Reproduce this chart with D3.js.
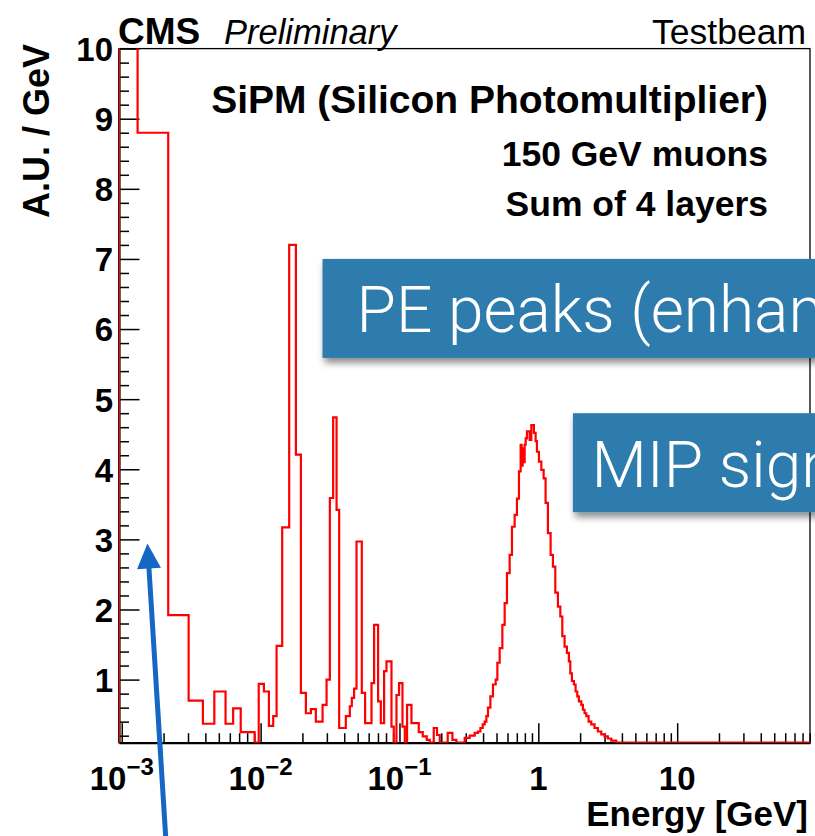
<!DOCTYPE html>
<html>
<head>
<meta charset="utf-8">
<script src="https://cdn.jsdelivr.net/npm/d3@7"></script>
<style>
  html, body { margin: 0; padding: 0; background: #ffffff; }
  svg { display: block; }
</style>
</head>
<body>
<svg id="chart" width="815" height="836"></svg>
<script>
// ---------------- data ----------------
// histogram bin edges, in GeV (variable binning)
const binEdges = [
  0.00045, 0.00130, 0.00216, 0.00303, 0.00384, 0.00464, 0.00559, 0.00634, 0.00719, 0.00905,
  0.00969, 0.01056, 0.01147, 0.01232, 0.01303, 0.01430, 0.01606, 0.01795, 0.01950, 0.02118,
  0.02301, 0.02499, 0.02793, 0.02985, 0.03152, 0.03329, 0.03523, 0.03678, 0.04108, 0.04389,
  0.04537, 0.04713, 0.04904, 0.05355, 0.05655, 0.0629, 0.06567, 0.07015, 0.07337, 0.0775,
  0.08063, 0.08758, 0.0910, 0.09515, 0.0993, 0.1051, 0.1092, 0.1134, 0.1220, 0.1377,
  0.1471, 0.1572, 0.1652, 0.1765, 0.1864, 0.1950, 0.2226, 0.2406, 0.2570, 0.2950,
  0.3205, 0.3481, 0.3678, 0.3826, 0.3975, 0.4108, 0.4225, 0.4339, 0.4515, 0.4713,
  0.4929, 0.507, 0.5267, 0.5508, 0.5722, 0.5944, 0.6216, 0.6457, 0.6753, 0.7015,
  0.7252, 0.7459, 0.7584, 0.7711, 0.7839, 0.797, 0.8103, 0.8279, 0.866, 0.8906,
  0.9297, 0.9563, 0.977, 1.010, 1.051, 1.092, 1.128, 1.172, 1.226, 1.274,
  1.325, 1.384, 1.440, 1.488, 1.546, 1.606, 1.660, 1.699, 1.745, 1.804,
  1.855, 1.908, 1.959, 2.039, 2.094, 2.153, 2.215, 2.301, 2.406, 2.541,
  2.685, 2.840, 2.999, 3.168, 3.351, 3.640, 100
];
// bin contents, A.U. / GeV
const binValues = [
  14, 8.80, 1.92, 0.70, 0.37, 0.83, 0.37, 0.59, 0.25, 0,
  0.94, 0.83, 0.34, 0.48, 1.48, 3.17, 7.20, 4.21, 0.81, 0.52,
  0.58, 0.40, 0.64, 1.00, 3.59, 4.74, 3.42, 0.31, 0.48, 0.62,
  0.74, 0.87, 2.97, 0.81, 0.38, 0.95, 1.78, 0.69, 0.38, 1.12,
  1.26, 0.33, 0, 0.78, 0.95, 0.33, 0, 0.64, 0.38, 0.25,
  0.19, 0.14, 0, 0.31, 0.21, 0, 0.24, 0.14, 0, 0.17,
  0.20, 0.24, 0.26, 0.31, 0.36, 0.40, 0.48, 0.60, 0.76, 0.93,
  1.00, 1.24, 1.45, 1.78, 2.09, 2.52, 2.78, 3.18, 3.35, 3.58,
  3.97, 4.35, 4.05, 4.30, 4.10, 4.35, 4.44, 4.54, 4.42, 4.63,
  4.52, 4.40, 4.25, 4.11, 3.99, 3.87, 3.52, 3.09, 2.78, 2.61,
  2.24, 2.04, 1.90, 1.62, 1.47, 1.38, 1.26, 1.09, 0.98, 0.93,
  0.83, 0.76, 0.69, 0.64, 0.57, 0.52, 0.48, 0.40, 0.36, 0.31,
  0.26, 0.22, 0.19, 0.16, 0.13, 0
];
const xDomain = [9.55e-4, 90.5];
const yDomain = [0.1, 10];
const xMajorTicks = [0.001, 0.01, 0.1, 1, 10];
const xTickBase = ["10", "10", "10", "1", "10"];
const xTickExp  = ["\u22123", "\u22122", "\u22121", "", ""];
const yMajorTicks = [1, 2, 3, 4, 5, 6, 7, 8, 9, 10];

const headerLeft = "CMS";
const headerLeftItalic = "Preliminary";
const headerRight = "Testbeam";
const legendLines = ["SiPM (Silicon Photomultiplier)", "150 GeV muons", "Sum of 4 layers"];
const xTitle = "Energy [GeV]";
const yTitle = "A.U. / GeV";

// overlay annotations (anchored in data units)
const notes = [
  { text: "PE peaks (enhanced)", e: 0.0279, vTop: 7.00 },
  { text: "MIP signal",          e: 1.774,  vTop: 4.80 }
];
const arrowTip  = { e: 0.00153, v: 2.94 };
const arrowTail = { e: 0.00208, v: -1.30 };

// ---------------- layout ----------------
const W = 815, H = 836;
const L = 119, R = 810, T = 48.6, B = 742.7;
const FONT = "'Liberation Sans', Arial, Helvetica, sans-serif";

const svg = d3.select("#chart");

const x = d3.scaleLog().domain(xDomain).range([L, R]).clamp(true);
const xFree = d3.scaleLog().domain(xDomain).range([L, R]);
const y = d3.scaleLinear().domain(yDomain).range([B, T]);

// defs
const defs = svg.append("defs");
defs.append("clipPath").attr("id", "frameClip")
  .append("rect").attr("x", L).attr("y", T).attr("width", R - L).attr("height", B - T);
const sh = defs.append("filter").attr("id", "shadow")
  .attr("x", "-10%").attr("y", "-20%").attr("width", "130%").attr("height", "160%");
sh.append("feDropShadow").attr("dx", 2).attr("dy", 5).attr("stdDeviation", 3.5)
  .attr("flood-color", "#000").attr("flood-opacity", 0.45);

// frame
svg.append("rect").attr("x", L).attr("y", T).attr("width", R - L).attr("height", B - T)
  .attr("fill", "none").attr("stroke", "#000").attr("stroke-width", 1.3);

// ---------------- axes ----------------
const xMinor = x.ticks().filter(v => !xMajorTicks.some(m => Math.abs(v / m - 1) < 1e-6));
const yMinor = y.ticks(50).filter(v => Math.abs(v - Math.round(v)) > 1e-6);

const gx = svg.append("g").attr("transform", `translate(0,${B})`);
gx.call(d3.axisBottom(x).tickValues(xMajorTicks).tickSizeInner(-19.5).tickSizeOuter(0).tickFormat(""));
gx.call(g => g.select(".domain").attr("stroke-width", 2.2));
gx.selectAll(".tick line").attr("stroke-width", 1.5);
const gxm = svg.append("g").attr("transform", `translate(0,${B})`);
gxm.call(d3.axisBottom(x).tickValues(xMinor).tickSizeInner(-9.5).tickSizeOuter(0).tickFormat(""));
gxm.select(".domain").remove();
gxm.selectAll(".tick line").attr("stroke-width", 1.5);

const gy = svg.append("g").attr("transform", `translate(${L},0)`);
gy.call(d3.axisLeft(y).tickValues(yMajorTicks).tickSizeInner(-20.5).tickSizeOuter(0).tickPadding(6).tickFormat(d3.format("d")));
gy.select(".domain").attr("stroke-width", 2.2);
gy.selectAll(".tick line").attr("stroke-width", 1.5);
gy.selectAll(".tick text")
  .attr("font-family", FONT).attr("font-weight", "bold").attr("font-size", 33)
  .attr("fill", "#000").attr("dy", "0.36em");
const gym = svg.append("g").attr("transform", `translate(${L},0)`);
gym.call(d3.axisLeft(y).tickValues(yMinor).tickSizeInner(-10).tickSizeOuter(0).tickFormat(""));
gym.select(".domain").remove();
gym.selectAll(".tick line").attr("stroke-width", 1.5);

// x tick labels with superscripts
const xl = svg.append("g");
xMajorTicks.forEach((t, i) => {
  const tx = xl.append("text")
    .attr("x", x(t)).attr("y", 790)
    .attr("text-anchor", "middle")
    .attr("font-family", FONT).attr("font-weight", "bold").attr("font-size", 33).attr("fill", "#000");
  tx.append("tspan").text(xTickBase[i]);
  if (xTickExp[i]) tx.append("tspan").attr("dy", -15).attr("font-size", 24).text(xTickExp[i]);
});

// axis titles
svg.append("text").attr("x", 808).attr("y", 826).attr("text-anchor", "end")
  .attr("font-family", FONT).attr("font-weight", "bold").attr("font-size", 35).attr("fill", "#000")
  .text(xTitle);
svg.append("text").attr("transform", "translate(49,44) rotate(-90)").attr("text-anchor", "end")
  .attr("font-family", FONT).attr("font-weight", "bold").attr("font-size", 36).attr("fill", "#000")
  .text(yTitle);

// ---------------- histogram ----------------
const path = d3.path();
path.moveTo(x(binEdges[0]), y(yDomain[0]));
binValues.forEach((v, i) => {
  const yy = y(Math.max(v, yDomain[0]));
  path.lineTo(x(binEdges[i]), yy);
  path.lineTo(x(binEdges[i + 1]), yy);
});
path.lineTo(x(binEdges[binEdges.length - 1]), y(yDomain[0]));
svg.append("path").attr("d", path.toString())
  .attr("clip-path", "url(#frameClip)")
  .attr("fill", "none").attr("stroke", "#ff0000").attr("stroke-width", 2.2)
  .attr("stroke-linejoin", "miter");

// ---------------- header texts ----------------
svg.append("text").attr("x", 118).attr("y", 43.5)
  .attr("font-family", FONT).attr("font-weight", "bold").attr("font-size", 37).attr("fill", "#000")
  .text(headerLeft);
svg.append("text").attr("x", 224).attr("y", 43.5)
  .attr("font-family", FONT).attr("font-style", "italic").attr("font-size", 34.5).attr("fill", "#000")
  .text(headerLeftItalic);
svg.append("text").attr("x", 806).attr("y", 43.5).attr("text-anchor", "end")
  .attr("font-family", FONT).attr("font-size", 35.5).attr("fill", "#000")
  .text(headerRight);

const legY = [113, 166, 216];
const legSize = [39, 35.5, 35.5];
legendLines.forEach((s, i) => {
  svg.append("text").attr("x", 768).attr("y", legY[i]).attr("text-anchor", "end")
    .attr("font-family", FONT).attr("font-weight", "bold").attr("font-size", legSize[i]).attr("fill", "#000")
    .text(s);
});

// ---------------- overlay annotations ----------------
const boxH = 99;
const noteTextDx = [34, 18.5];
notes.forEach((n, i) => {
  const bx = xFree(n.e), by = y(n.vTop);
  svg.append("rect").attr("x", bx).attr("y", by).attr("width", W - bx + 40).attr("height", boxH)
    .attr("fill", "#2f7cae").attr("filter", "url(#shadow)");
  svg.append("text").attr("x", bx + noteTextDx[i]).attr("y", by + 73.5)
    .attr("font-family", "Roboto, 'Open Sans', Lato, sans-serif").attr("font-weight", 300)
    .attr("font-size", 64).attr("fill", "#ffffff")
    .text(n.text);
});

// blue arrow
const tipX = xFree(arrowTip.e), tipY = y(arrowTip.v);
const tailX = xFree(arrowTail.e), tailY = y(arrowTail.v);
const dx = tipX - tailX, dy = tipY - tailY, len = Math.hypot(dx, dy);
const ux = dx / len, uy = dy / len;
const headL = 25, headW = 12;
const bcx = tipX - ux * headL, bcy = tipY - uy * headL;
svg.append("line").attr("x1", tailX).attr("y1", tailY).attr("x2", bcx + ux * 2).attr("y2", bcy + uy * 2)
  .attr("stroke", "#1667c4").attr("stroke-width", 5);
svg.append("path")
  .attr("d", `M${tipX},${tipY}L${bcx - uy * headW},${bcy + ux * headW}L${bcx + uy * headW},${bcy - ux * headW}Z`)
  .attr("fill", "#1667c4");
</script>
</body>
</html>
